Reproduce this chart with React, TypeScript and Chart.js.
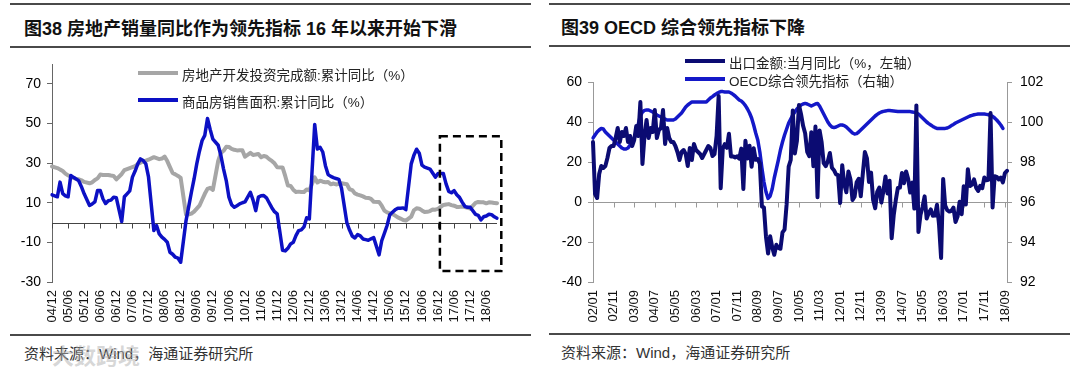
import React, { useEffect, useRef } from 'react';
import { Chart, registerables } from 'chart.js';

Chart.register(...registerables);
Chart.defaults.font.family = "'Liberation Sans', Arial, sans-serif";

const FONT = "'Liberation Sans', 'Noto Sans CJK SC', sans-serif";

const monthLabels = (year: number, month: number, count: number): string[] => {
  const out: string[] = [];
  let y = year;
  let m = month;
  for (let i = 0; i < count; i++) {
    out.push(String(y % 100).padStart(2, '0') + '/' + String(m).padStart(2, '0'));
    m++;
    if (m > 12) { m = 1; y++; }
  }
  return out;
};

// ---------- Figure 38 ----------
const LEFT_MONTHS = monthLabels(2004, 12, 167); // 2004/12 .. 2018/10
const LEFT_XTICKS = ['04/12', '05/06', '05/12', '06/06', '06/12', '07/06', '07/12', '08/06', '08/12', '09/06', '09/12', '10/06', '10/12', '11/06', '11/12', '12/06', '12/12', '13/06', '13/12', '14/06', '14/12', '15/06', '15/12', '16/06', '16/12', '17/06', '17/12', '18/06'];
const LEFT_YTICKS = [-30, -10, 10, 30, 50, 70];

// 房地产开发投资完成额:累计同比（%） (January not published)
const INVEST_YOY = [
  28.3,
  null, 27.5, 26.8, 26.0, 24.7, 23.8, 23.3, 22.5, 22.0, 21.8, 21.3, 20.5,
  null, 19.8, 20.3, 21.5, 22.3, 24.2, 24.0, 24.0, 24.0, 23.7, 23.5, 21.8,
  null, 24.5, 26.5, 27.0, 27.5, 28.0, 28.5, 29.5, 30.2, 30.8, 31.2, 31.7,
  null, 33.0, 32.5, 32.0, 32.3, 33.3, 31.0, 28.0, 25.0, 24.3, 23.5, 22.5,
  null, 4.0, 4.1, 4.5, 5.5, 7.0, 8.5, 11.5, 14.5, 17.0, 17.5, 16.5,
  null, 31.1, 35.1, 36.2, 38.2, 38.1, 37.2, 36.7, 36.4, 36.5, 36.5, 33.2,
  null, 35.2, 34.1, 34.3, 34.6, 32.9, 33.6, 33.2, 32.0, 31.1, 29.9, 27.9,
  null, 27.8, 23.5, 18.7, 18.5, 16.6, 15.4, 15.6, 15.4, 15.4, 16.7, 16.2,
  null, 22.8, 20.2, 21.1, 20.6, 20.3, 20.5, 19.3, 19.7, 19.2, 19.5, 19.8,
  null, 19.3, 16.8, 16.4, 14.7, 14.1, 13.7, 13.2, 12.5, 12.4, 11.9, 10.5,
  null, 10.4, 8.5, 6.0, 5.1, 4.6, 4.3, 3.5, 2.6, 2.0, 1.3, 1.0,
  null, 3.0, 6.2, 7.2, 7.0, 6.1, 5.3, 5.4, 5.8, 6.6, 6.5, 6.9,
  null, 8.9, 9.1, 9.3, 8.8, 8.5, 7.9, 7.9, 8.1, 7.8, 7.5, 7.0,
  null, 9.9, 10.4, 10.3, 10.2, 9.7, 10.2, 10.1, 9.9, 9.7,
];

// 商品房销售面积:累计同比（%）
const SALES_AREA_YOY = [
  14.0,
  null, 13.0, 20.4, 14.6, 13.5, 13.0, 23.7, 22.8, 22.0, 21.0, 18.0, 14.5,
  null, 8.6, 9.4, 10.4, 16.2, 16.2, 12.0, 9.6, 11.0, 11.3, 12.8, 12.5,
  null, 0.5, 13.0, 14.5, 16.0, 22.9, 26.0, 29.6, 32.1, 31.3, 29.6, 23.0,
  null, -4.0, -1.5, -5.7, -7.4, -8.5, -9.9, -15.0, -16.0, -17.5, -18.0, -20.0,
  null, 1.0, 8.0, 15.3, 22.0, 29.6, 36.0, 41.4, 44.0, 52.5, 47.0, 42.1,
  null, 39.0, 33.8, 27.0, 21.2, 12.8, 9.0, 7.7, 8.5, 9.4, 10.0, 10.4,
  null, 15.3, 11.3, 6.0, 12.8, 13.5, 13.6, 12.5, 10.0, 7.5, 5.5, 4.4,
  null, -14.0, -14.3, -13.0, -10.8, -10.0, -6.6, -4.1, -3.7, -2.2, 2.4, 1.8,
  null, 49.5, 37.1, 38.0, 35.6, 28.7, 24.2, 23.3, 22.7, 22.2, 21.8, 17.3,
  null, -0.1, -3.8, -6.8, -7.8, -6.0, -6.7, -8.3, -8.6, -8.9, -8.2, -7.6,
  null, -16.3, -9.2, -5.4, -1.5, 3.9, 5.2, 6.4, 7.2, 7.2, 7.4, 6.5,
  null, 29.6, 34.0, 37.0, 35.0, 29.0, 28.0, 27.5, 27.0, 25.0, 22.9, 24.7,
  null, 24.7, 19.5, 15.7, 15.0, 16.1, 14.0, 12.7, 10.3, 8.2, 7.7, 7.7,
  null, 4.1, 3.6, 1.3, 2.9, 3.3, 4.2, 4.0, 2.9, 2.2,
];

// dashed highlight box, in data coordinates (category index / value)
const HIGHLIGHT_BOX = { fromIndex: 144.7, toIndex: 167.6, top: 43.5, bottom: -24.5 };

// ---------- Figure 39 ----------
const RIGHT_MONTHS = monthLabels(2002, 1, 202); // 2002/01 .. 2018/10
const RIGHT_XTICKS = ['02/01', '02/11', '03/09', '04/07', '05/05', '06/03', '07/01', '07/11', '08/09', '09/07', '10/05', '11/03', '12/01', '12/11', '13/09', '14/07', '15/05', '16/03', '17/01', '17/11', '18/09'];

// 出口金额:当月同比（%，左轴）
const EXPORT_YOY = [
  30, 4, 2, 14, 18, 17, 18, 22, 27, 28, 28, 32,
  37, 30, 35, 33, 37, 30, 33, 28, 31, 38, 33, 50,
  19, 33, 41, 32, 37, 35, 46, 32, 36, 37, 46, 29,
  37, 32, 30, 30, 28, 25, 21, 25, 26, 24, 18, 27,
  21, 29, 26, 25, 24, 22, 24, 26, 28, 27, 23, 24,
  33, 53, 6.9, 26.7, 28.9, 27.1, 34.1, 22.7, 22.8, 22.3, 22.8, 21.7,
  26.7, 6.5, 30.6, 21.8, 28.1, 17.6, 26.9, 21.1, 21.5, 19.2, -2.2, -2.8,
  -17.5, -25.7, -17.1, -22.6, -26.4, -21.4, -23.0, -23.4, -15.2, -13.8, -1.2, 17.7,
  21.0, 45.7, 24.3, 30.5, 48.5, 43.9, 38.1, 34.4, 25.1, 22.9, 34.9, 17.9,
  37.7, 2.4, 35.8, 29.9, 19.4, 17.9, 20.4, 24.5, 17.1, 15.9, 13.8, 13.4,
  -0.5, 18.4, 8.9, 4.9, 15.3, 11.3, 1.0, 2.7, 9.9, 11.6, 2.9, 14.1,
  25.0, 21.8, 10.0, 14.7, 1.0, -3.1, 5.1, 7.2, -0.3, 5.6, 12.7, 4.3,
  10.6, -18.1, -6.6, 0.9, 7.0, 7.2, 14.5, 9.4, 15.3, 11.6, 4.7, 9.7,
  -3.3, 48.3, -15.0, -6.4, -2.5, 2.8, -8.3, -5.5, -3.7, -6.9, -6.8, -1.4,
  -11.2, -28.0, 11.5, -1.8, -4.1, -4.8, -4.4, -2.8, -10.0, -7.3, 0.1, -6.1,
  7.9, -1.3, 16.4, 8.0, 8.7, 11.3, 7.2, 5.5, 8.1, 6.9, 12.3, 10.9,
  11.1, 44.5, -2.7, 12.9, 12.6, 11.3, 12.2, 9.8, 14.5, 15.6,
];

// OECD综合领先指标（右轴）
const OECD_CLI = [
  99.2, 99.35, 99.5, 99.6, 99.68, 99.65, 99.5, 99.4, 99.3, 99.2, 99.1, 99.0,
  98.9, 98.8, 98.7, 98.65, 98.65, 98.7, 98.85, 99.0, 99.2, 99.5, 99.9, 100.3,
  100.5, 100.58, 100.6, 100.6, 100.55, 100.5, 100.43, 100.35, 100.3, 100.25, 100.2, 100.15,
  100.1, 100.1, 100.1, 100.1, 100.15, 100.25, 100.35, 100.45, 100.6, 100.75, 100.85, 100.93,
  101.0, 101.0, 101.0, 101.0, 101.0, 101.0, 101.0, 101.0, 101.1, 101.2, 101.27, 101.35,
  101.42, 101.48, 101.52, 101.52, 101.5, 101.5, 101.5, 101.45, 101.38, 101.3, 101.2, 101.1,
  101.05, 100.95, 100.82, 100.65, 100.45, 100.2, 99.85, 99.45, 99.1, 98.5, 97.7, 97.0,
  96.5, 96.18, 96.3, 96.65, 97.2, 97.65, 98.1, 98.6, 99.0, 99.35, 99.65, 99.95,
  100.15, 100.35, 100.5, 100.65, 100.75, 100.85, 100.9, 100.93, 100.9, 100.85, 100.8, 100.85,
  100.9, 100.93, 100.8, 100.6, 100.4, 100.2, 100.0, 99.85, 99.75, 99.72, 99.75, 99.8,
  99.85, 99.85, 99.82, 99.75, 99.65, 99.55, 99.45, 99.4, 99.42, 99.5, 99.6, 99.7,
  99.8, 99.9, 100.0, 100.1, 100.2, 100.3, 100.38, 100.45, 100.5, 100.53, 100.55, 100.57,
  100.57, 100.56, 100.55, 100.54, 100.53, 100.52, 100.52, 100.52, 100.52, 100.52, 100.52, 100.5,
  100.48, 100.45, 100.4, 100.3, 100.2, 100.1, 100.0, 99.92, 99.85, 99.78, 99.72, 99.68,
  99.67, 99.67, 99.68, 99.68, 99.7, 99.75, 99.82, 99.88, 99.95, 100.0, 100.05, 100.1,
  100.15, 100.2, 100.25, 100.3, 100.33, 100.36, 100.38, 100.4, 100.4, 100.4, 100.4, 100.38,
  100.36, 100.33, 100.28, 100.2, 100.1, 99.98, 99.85, 99.68, null, null,
];

const GRAY = '#a6a6a6';
const BLUE = '#0c10c4';
const NAVY = '#0b0b72';
const CLI_BLUE = '#1418c8';

const makeZeroAxis = (ticks: string[], color: string) => ({
  id: 'zeroAxis',
  beforeDatasetsDraw(chart: any) {
    const { ctx, chartArea, scales } = chart;
    const y = Math.round(scales.y.getPixelForValue(0)) + 0.5;
    const labels: string[] = chart.data.labels;
    ctx.save();
    ctx.strokeStyle = color;
    ctx.lineWidth = 1;
    ctx.beginPath();
    ctx.moveTo(chartArea.left, y);
    ctx.lineTo(chartArea.right, y);
    labels.forEach((l, i) => {
      if (ticks.includes(l)) {
        const x = Math.round(scales.x.getPixelForValue(i)) + 0.5;
        ctx.moveTo(x, y);
        ctx.lineTo(x, y + 5);
      }
    });
    ctx.stroke();
    ctx.restore();
  },
});

const boxPlugin = {
  id: 'highlightBox',
  afterDatasetsDraw(chart: any) {
    const { ctx, scales } = chart;
    const x1 = scales.x.getPixelForValue(HIGHLIGHT_BOX.fromIndex);
    const x2 = scales.x.getPixelForValue(HIGHLIGHT_BOX.toIndex);
    const y1 = scales.y.getPixelForValue(HIGHLIGHT_BOX.top);
    const y2 = scales.y.getPixelForValue(HIGHLIGHT_BOX.bottom);
    ctx.save();
    ctx.strokeStyle = '#000';
    ctx.lineWidth = 2.5;
    ctx.setLineDash([8, 5]);
    ctx.strokeRect(x1, y1, x2 - x1, y2 - y1);
    ctx.restore();
  },
};

const xAxis = (months: string[], ticks: string[]) => {
  const set = new Set(ticks);
  return {
    type: 'category' as const,
    grid: { display: false, drawTicks: false },
    border: { display: false },
    ticks: {
      autoSkip: false,
      minRotation: 90,
      maxRotation: 90,
      padding: 8,
      color: '#111',
      font: { size: 13 },
      callback: (_v: any, i: number) => (set.has(months[i]) ? months[i] : ''),
    },
    afterFit: (s: any) => { s.height = 52; },
  };
};

const line = (data: any[], color: string, width: number, order: number, extra: any = {}) => ({
  data,
  borderColor: color,
  backgroundColor: color,
  borderWidth: width,
  pointRadius: 0,
  tension: 0,
  spanGaps: true,
  borderJoinStyle: 'round',
  borderCapStyle: 'round',
  order,
  ...extra,
});

const hr = (left: number, top: number, width: number) => (
  <div style={{ position: 'absolute', left, top, width, height: 2, background: '#4a4a4a' }} />
);

const textBase: any = { position: 'absolute', whiteSpace: 'nowrap', textSpacingTrim: 'space-all' };

const legendRow = (left: number, cy: number, color: string, text: string) => (
  <>
    <div style={{ position: 'absolute', left, top: cy - 2, width: 40, height: 4, background: color }} />
    <div style={{ ...textBase, left: left + 44, top: cy - 9, lineHeight: '18px', font: `13.5px ${FONT}`, color: '#222' }}>{text}</div>
  </>
);

export default function App() {
  const leftRef = useRef<HTMLCanvasElement>(null);
  const rightRef = useRef<HTMLCanvasElement>(null);

  useEffect(() => {
    const left = new Chart(leftRef.current!, {
      type: 'line',
      data: {
        labels: LEFT_MONTHS,
        datasets: [
          line(SALES_AREA_YOY, BLUE, 3.5, 0, { label: '商品房销售面积:累计同比（%）' }),
          line(INVEST_YOY, GRAY, 4, 1, { label: '房地产开发投资完成额:累计同比（%）' }),
        ] as any,
      },
      options: {
        responsive: false,
        animation: false,
        layout: { padding: { top: 64, right: 43, left: 0, bottom: 0 } },
        plugins: { legend: { display: false }, tooltip: { enabled: false } },
        scales: {
          x: xAxis(LEFT_MONTHS, LEFT_XTICKS) as any,
          y: {
            min: -30,
            max: 80,
            afterBuildTicks: (s: any) => { s.ticks = LEFT_YTICKS.map((v) => ({ value: v })); },
            grid: { display: true, drawOnChartArea: false, drawTicks: true, tickLength: 5, color: '#666' },
            border: { display: true, color: '#666' },
            ticks: { padding: 6, color: '#000', font: { size: 14 } },
            afterFit: (s: any) => { s.width = 52; },
          },
        },
      },
      plugins: [makeZeroAxis(LEFT_XTICKS, '#444'), boxPlugin],
    });

    const right = new Chart(rightRef.current!, {
      type: 'line',
      data: {
        labels: RIGHT_MONTHS,
        datasets: [
          line(EXPORT_YOY, NAVY, 4, 0, { label: '出口金额:当月同比（%，左轴）', yAxisID: 'y' }),
          line(OECD_CLI, CLI_BLUE, 3.5, 1, { label: 'OECD综合领先指标（右轴）', yAxisID: 'y1', spanGaps: false }),
        ] as any,
      },
      options: {
        responsive: false,
        animation: false,
        layout: { padding: { top: 82, right: 0, left: 0, bottom: 0 } },
        plugins: { legend: { display: false }, tooltip: { enabled: false } },
        scales: {
          x: xAxis(RIGHT_MONTHS, RIGHT_XTICKS) as any,
          y: {
            position: 'left',
            min: -40,
            max: 60,
            ticks: { stepSize: 20, padding: 6, color: '#000', font: { size: 14 } },
            grid: { display: true, drawOnChartArea: false, drawTicks: true, tickLength: 5, color: '#999' },
            border: { display: true, color: '#999' },
            afterFit: (s: any) => { s.width = 53; },
          },
          y1: {
            position: 'right',
            min: 92,
            max: 102,
            ticks: { stepSize: 2, padding: 8, color: '#000', font: { size: 14 } },
            grid: { display: true, drawOnChartArea: false, drawTicks: true, tickLength: 5, color: '#999' },
            border: { display: true, color: '#999' },
            afterFit: (s: any) => { s.width = 73; },
          },
        },
      },
      plugins: [makeZeroAxis(RIGHT_XTICKS, '#999')],
    });

    return () => {
      left.destroy();
      right.destroy();
    };
  }, []);

  return (
    <div style={{ position: 'absolute', left: 0, top: 0, width: 1080, height: 374, background: '#fff', overflow: 'hidden' }}>
      {hr(10, 3, 521)}
      {hr(10, 46, 521)}
      {hr(10, 334, 521)}
      {hr(549, 3, 521)}
      {hr(549, 45, 521)}
      {hr(549, 333, 521)}

      <div style={{ ...textBase, left: 24, top: 14, lineHeight: '24px', font: `bold 18px ${FONT}`, color: '#111' }}>
        图38 房地产销量同比作为领先指标 16 年以来开始下滑
      </div>
      <div style={{ ...textBase, left: 561, top: 13, lineHeight: '24px', font: `bold 18px ${FONT}`, color: '#111' }}>
        图39 OECD 综合领先指标下降
      </div>

      <canvas ref={leftRef} width={540} height={334} style={{ position: 'absolute', left: 0, top: 0 }} />
      <canvas ref={rightRef} width={540} height={334} style={{ position: 'absolute', left: 540, top: 0 }} />

      {legendRow(138, 73, GRAY, '房地产开发投资完成额:累计同比（%）')}
      {legendRow(138, 100, BLUE, '商品房销售面积:累计同比（%）')}
      {legendRow(685, 61, NAVY, '出口金额:当月同比（%，左轴）')}
      {legendRow(685, 79, CLI_BLUE, 'OECD综合领先指标（右轴）')}

      <div style={{ ...textBase, left: 24, top: 342, lineHeight: '20px', font: `15px ${FONT}`, color: '#333' }}>
        资料来源：Wind，海通证券研究所
      </div>
      <div style={{ ...textBase, left: 52, top: 338, lineHeight: '26px', font: `bold 22px ${FONT}`, color: 'rgba(175,175,175,0.5)' }}>
        大数跨境
      </div>
      <div style={{ ...textBase, left: 561, top: 341, lineHeight: '20px', font: `15px ${FONT}`, color: '#333' }}>
        资料来源：Wind，海通证券研究所
      </div>
    </div>
  );
}
